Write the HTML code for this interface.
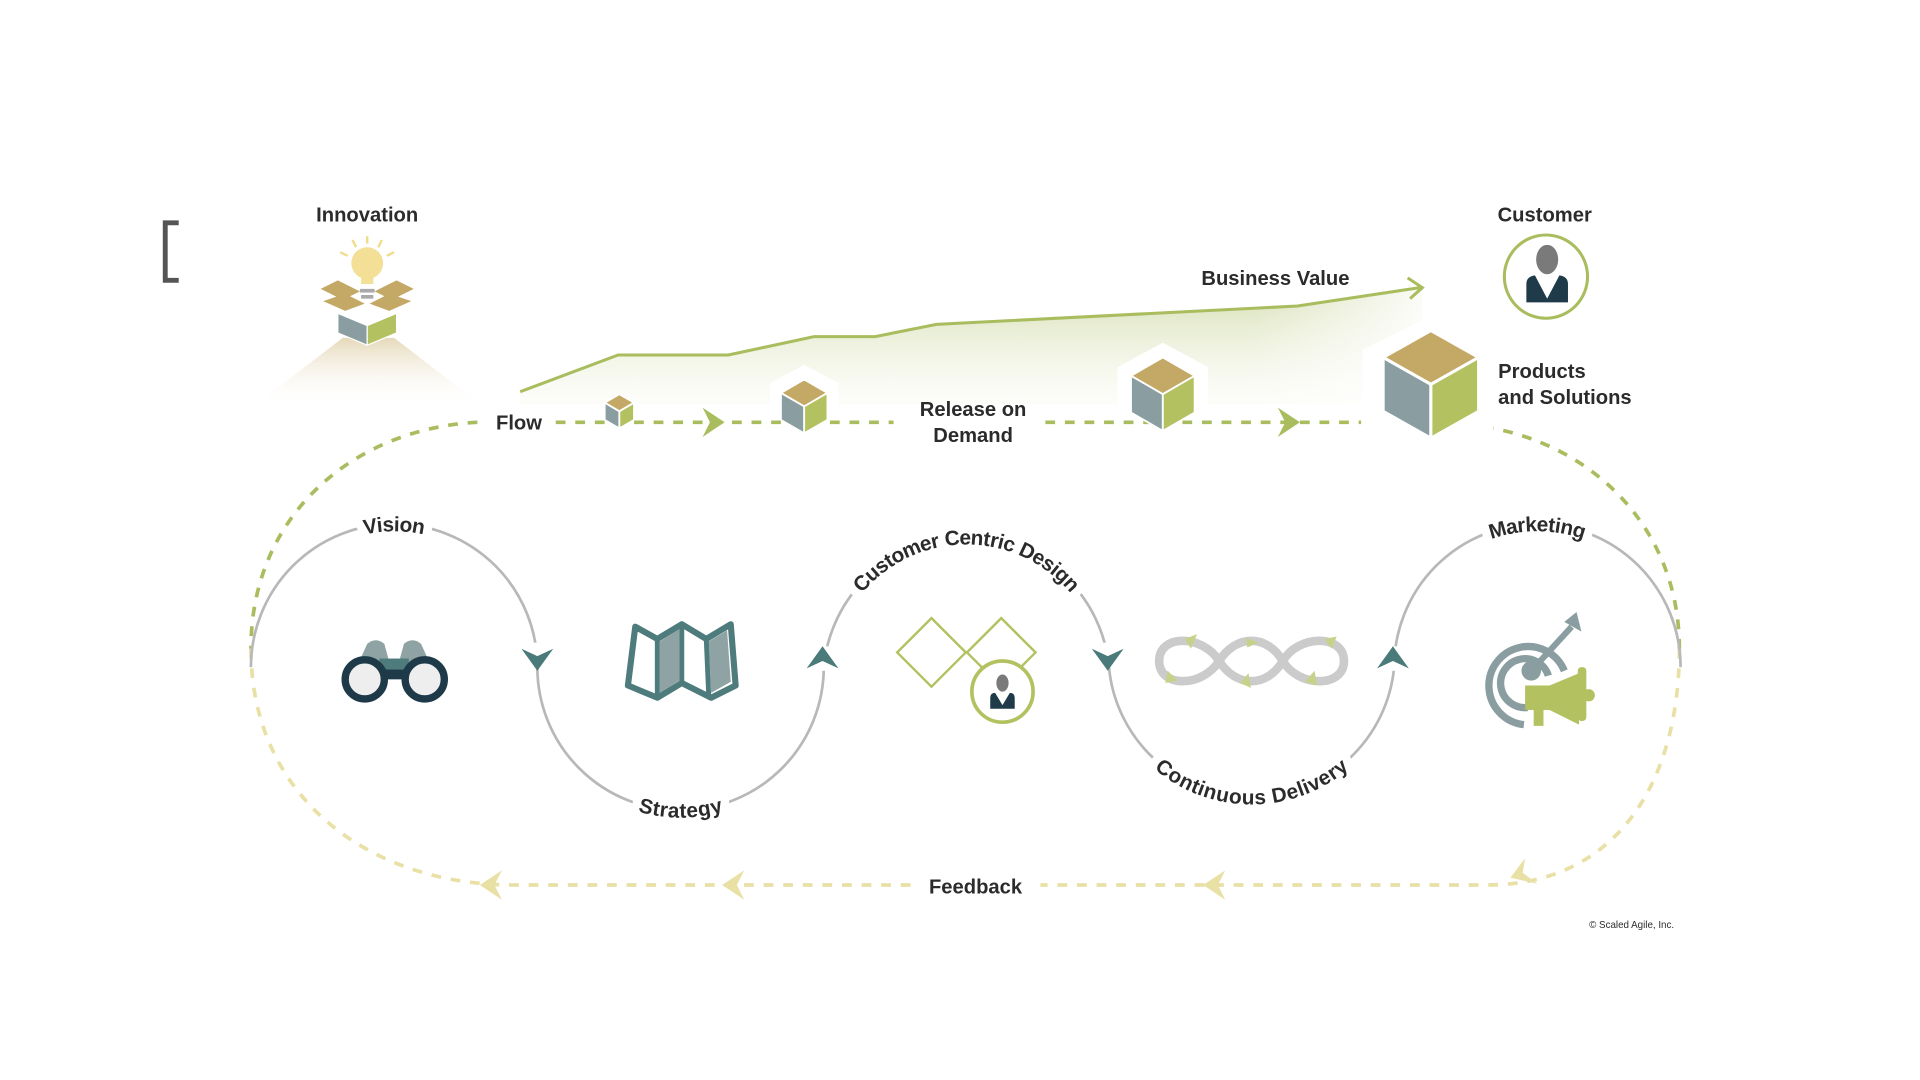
<!DOCTYPE html>
<html><head><meta charset="utf-8"><style>
html,body{margin:0;padding:0;background:#fff;width:1920px;height:1080px;overflow:hidden}
svg{display:block}
text{font-family:"Liberation Sans",sans-serif;font-weight:bold;fill:#2b2b2b}
</style></head><body>
<svg width="1920" height="1080" viewBox="0 0 1568.6 882.3" preserveAspectRatio="none">
<defs>
<linearGradient id="cone" x1="0" y1="0" x2="0" y2="1"><stop offset="0" stop-color="#e6d9ba"/><stop offset="1" stop-color="#fff" stop-opacity="0"/></linearGradient>
<linearGradient id="bv" x1="0" y1="0" x2="0" y2="1"><stop offset="0" stop-color="#c9d49a" stop-opacity=".75"/><stop offset="1" stop-color="#eef2dc" stop-opacity=".15"/></linearGradient>
<linearGradient id="fadeR" x1="0" y1="0" x2="1" y2="0"><stop offset="0" stop-color="#fff" stop-opacity="1"/><stop offset=".8" stop-color="#fff" stop-opacity="1"/><stop offset="1" stop-color="#fff" stop-opacity="0"/></linearGradient>
<mask id="m1"><rect x="400" y="200" width="780" height="160" fill="url(#fadeR)"/></mask>
</defs>

<path d="M146,182 H135 V229 H146" fill="none" stroke="#555" stroke-width="4"/>

<text x="300" y="181" font-size="16.5" text-anchor="middle">Innovation</text>
<polygon points="280,276 322,276 396,333 206,333" fill="url(#cone)"/>
<g stroke="#f1dc8e" stroke-width="2">
<line x1="300" y1="193" x2="300" y2="199"/><line x1="288" y1="196" x2="291" y2="202"/><line x1="312" y1="196" x2="309" y2="202"/>
<line x1="278" y1="206" x2="284" y2="209"/><line x1="322" y1="206" x2="316" y2="209"/>
</g>
<circle cx="300" cy="215" r="13" fill="#f3df96"/>
<rect x="295" y="222" width="10" height="10" fill="#f3df96"/>
<rect x="294" y="236" width="12" height="3" fill="#aaa"/><rect x="295" y="241" width="10" height="3" fill="#aaa"/>
<polygon points="262,236 276,229 294,238 280,245" fill="#c4a865"/>
<polygon points="338,236 324,229 306,238 320,245" fill="#c4a865"/>
<polygon points="264,246 282,240 298,248 282,254" fill="#c4a865"/>
<polygon points="336,246 318,240 302,248 318,254" fill="#c4a865"/>
<polygon points="276,256 300,266 300,282 276,272" fill="#8a9ea2" stroke="#fff" stroke-width="1"/>
<polygon points="324,256 300,266 300,282 324,272" fill="#b3c160" stroke="#fff" stroke-width="1"/>

<polygon points="425,320 505,290 595,290 665,275 715,275 765,265 1060,250 1162,235 1162,330 425,330" fill="url(#bv)" mask="url(#m1)"/>
<polyline points="425,320 505,290 595,290 665,275 715,275 765,265 1060,250 1160,235" fill="none" stroke="#a9bd5e" stroke-width="2.5"/>
<polyline points="1150,227 1162,235 1152,244" fill="none" stroke="#a9bd5e" stroke-width="2.5"/>
<text x="1042" y="233" font-size="16.5" text-anchor="middle">Business Value</text>

<polygon points="657,298 685,313 685,340 629,340 629,313" fill="#fff"/>
<polygon points="950,280 987,300 987,345 913,345 913,300" fill="#fff"/>
<polygon points="1169,258 1222,286 1222,345 1113,345 1113,286" fill="#fff"/>

<line x1="454" y1="345" x2="1112" y2="345" stroke="#a9bd5e" stroke-width="3" stroke-dasharray="8 8"/>
<rect x="730" y="335" width="120" height="22" fill="#fff"/>
<path d="M592,345 L574,333 L580,345 L574,357 Z" fill="#a9bd5e"/>
<path d="M1062,345 L1044,333 L1050,345 L1044,357 Z" fill="#a9bd5e"/>
<text x="424" y="351" font-size="16.5" text-anchor="middle">Flow</text>
<text x="795" y="340" font-size="16.5" text-anchor="middle">Release on</text>
<text x="795" y="361" font-size="16.5" text-anchor="middle">Demand</text>

<g stroke="#fff" stroke-width="1.5" stroke-linejoin="round">
<polygon points="506,322 518,329 506,336 494,329" fill="#c4a865"/><polygon points="494,329 506,336 506,350 494,343" fill="#8a9ea2"/><polygon points="518,329 506,336 506,350 518,343" fill="#b3c160"/>
<polygon points="657,310 676,321 657,332 638,321" fill="#c4a865"/><polygon points="638,321 657,332 657,354 638,343" fill="#8a9ea2"/><polygon points="676,321 657,332 657,354 676,343" fill="#b3c160"/>
<polygon points="950,292 976,307 950,322 924,307" fill="#c4a865"/><polygon points="924,307 950,322 950,352 924,337" fill="#8a9ea2"/><polygon points="976,307 950,322 950,352 976,337" fill="#b3c160"/>
<polygon points="1169,270 1208,292 1169,314 1130,292" fill="#c4a865" stroke-width="2.5"/><polygon points="1130,292 1169,314 1169,358 1130,336" fill="#8a9ea2" stroke-width="2.5"/><polygon points="1208,292 1169,314 1169,358 1208,336" fill="#b3c160" stroke-width="2.5"/>
</g>
<text x="1224" y="309" font-size="16.5">Products</text>
<text x="1224" y="330" font-size="16.5">and Solutions</text>

<text x="1262" y="181" font-size="16.5" text-anchor="middle">Customer</text>
<circle cx="1263" cy="226" r="34" fill="#fff" stroke="#a9bd5e" stroke-width="2.5"/>
<ellipse cx="1264" cy="212" rx="9" ry="12" fill="#7a7a7a"/>
<path d="M1247,247 V232 Q1247,226 1254,225 L1264,244 L1274,225 Q1281,226 1281,232 V247 Z" fill="#1f3a48"/>

<g fill="none" stroke-width="3" stroke-dasharray="8 8">
<path d="M390,345 C290,350 205,420 205,530" stroke="#a9bd5e"/>
<path d="M205,530 C205,650 300,723 420,723 L1215,723 C1320,723 1372,640 1372,530" stroke="#e9e0a5"/>
<path d="M1372,530 C1372,430 1300,365 1220,350" stroke="#a9bd5e"/>
</g>
<rect x="745" y="712" width="105" height="24" fill="#fff"/>
<text x="797" y="730" font-size="16.5" text-anchor="middle">Feedback</text>
<g fill="#e9e0a5">
<path d="M392,723 L410,711 L404,723 L410,735 Z"/>
<path d="M590,723 L608,711 L602,723 L608,735 Z"/>
<path d="M983,723 L1001,711 L995,723 L1001,735 Z"/>
<path d="M1234,717 L1246,701 L1244,713 L1256,722 Z"/>
</g>

<g fill="none" stroke="#b8b8b8" stroke-width="2.2">
<path id="a1" d="M205,545 A117,117 0 0 1 439,545"/>
<path id="a2" d="M439,545 A117,117 0 0 0 673,545"/>
<path id="a3" d="M673,545 A117,117 0 0 1 906,545"/>
<path id="a4" d="M906,545 A117,117 0 0 0 1139,545"/>
<path id="a5" d="M1139,545 A117,117 0 0 1 1373,545"/>
</g>
<g font-size="17" stroke="#fff" stroke-width="14" stroke-linejoin="round">
<text style="fill:#fff"><textPath href="#a1" startOffset="50%" text-anchor="middle"><tspan dy="6">Vision</tspan></textPath></text>
<text style="fill:#fff"><textPath href="#a2" startOffset="50%" text-anchor="middle"><tspan dy="6">Strategy</tspan></textPath></text>
<text style="fill:#fff"><textPath href="#a3" startOffset="50%" text-anchor="middle"><tspan dy="6">Customer Centric Design</tspan></textPath></text>
<text style="fill:#fff"><textPath href="#a4" startOffset="50%" text-anchor="middle"><tspan dy="6">Continuous Delivery</tspan></textPath></text>
<text style="fill:#fff"><textPath href="#a5" startOffset="50%" text-anchor="middle"><tspan dy="6">Marketing</tspan></textPath></text>
</g>
<g font-size="17">
<text><textPath href="#a1" startOffset="50%" text-anchor="middle"><tspan dy="6">Vision</tspan></textPath></text>
<text><textPath href="#a2" startOffset="50%" text-anchor="middle"><tspan dy="6">Strategy</tspan></textPath></text>
<text><textPath href="#a3" startOffset="50%" text-anchor="middle"><tspan dy="6">Customer Centric Design</tspan></textPath></text>
<text><textPath href="#a4" startOffset="50%" text-anchor="middle"><tspan dy="6">Continuous Delivery</tspan></textPath></text>
<text><textPath href="#a5" startOffset="50%" text-anchor="middle"><tspan dy="6">Marketing</tspan></textPath></text>
</g>
<rect x="433" y="525" width="12" height="20" fill="#fff"/><rect x="667" y="528" width="12" height="20" fill="#fff"/>
<rect x="900" y="525" width="12" height="20" fill="#fff"/><rect x="1133" y="528" width="12" height="20" fill="#fff"/>
<g fill="#4a7a7a">
<path d="M439,548 L426,530 L439,536 L452,530 Z"/>
<path d="M672,528 L659,546 L672,540 L685,546 Z"/>
<path d="M905,548 L892,530 L905,536 L918,530 Z"/>
<path d="M1138,528 L1125,546 L1138,540 L1151,546 Z"/>
</g>

<path d="M290,548 L300,526 Q307,520 314,526 L320,548 Z" fill="#8fa3a5"/>
<path d="M324,548 L330,526 Q337,520 344,526 L354,548 Z" fill="#8fa3a5"/>
<rect x="310" y="538" width="24" height="16" fill="#4e7b7b"/>
<circle cx="298" cy="555" r="16" fill="#eee" stroke="#1e3a48" stroke-width="6"/>
<circle cx="347" cy="555" r="16" fill="#eee" stroke="#1e3a48" stroke-width="6"/>
<rect x="312" y="547" width="20" height="8" fill="#1e3a48"/>

<polygon points="519,512 537,522 557,510 577,522 597,510 601,560 581,570 557,558 537,570 513,560" fill="#fff" stroke="#4e7b7b" stroke-width="5" stroke-linejoin="round"/>
<polygon points="539,524 555,514 555,556 539,566" fill="#8fa3a5"/>
<polygon points="579,524 594,515 597,557 581,566" fill="#8fa3a5"/>
<line x1="537" y1="522" x2="537" y2="570" stroke="#4e7b7b" stroke-width="4"/>
<line x1="557" y1="510" x2="557" y2="558" stroke="#4e7b7b" stroke-width="4"/>
<line x1="577" y1="522" x2="579" y2="568" stroke="#4e7b7b" stroke-width="4"/>

<g fill="none" stroke="#b3c160" stroke-width="2">
<polygon points="761,505 789,533 761,561 733,533"/>
<polygon points="818,505 846,533 818,561 790,533"/>
</g>
<circle cx="819" cy="565" r="25" fill="#fff" stroke="#b3c160" stroke-width="3"/>
<ellipse cx="819" cy="558" rx="5" ry="7" fill="#7a7a7a"/>
<path d="M809,579 V570 Q809,566 813,566 L819,576 L825,566 Q829,566 829,570 V579 Z" fill="#1f3a48"/>

<path d="M996,540 C1010,518 1035,518 1048,540 C1061,562 1098,562 1098,540 C1098,518 1061,518 1048,540 C1035,562 1010,562 996,540 C982,518 947,518 947,540 C947,562 982,562 996,540 Z" fill="none" stroke="#cbcbcb" stroke-width="7"/>
<g fill="#c5d38a">
<path d="M968,522 L978,518 L973,530 Z"/><path d="M1018,521 L1028,525 L1019,529 Z"/><path d="M1082,522 L1092,520 L1088,530 Z"/>
<path d="M952,558 L962,556 L954,548 Z"/><path d="M1013,558 L1020,550 L1022,562 Z"/><path d="M1066,557 L1074,548 L1076,560 Z"/>
</g>

<g fill="none" stroke="#8a9ea2" stroke-width="6">
<path d="M1245,592 A32,32 0 1 1 1278,548"/>
<path d="M1248,578 A20,20 0 1 1 1265,552"/>
</g>
<circle cx="1251" cy="548" r="8" fill="#8a9ea2"/>
<line x1="1251" y1="548" x2="1284" y2="512" stroke="#8a9ea2" stroke-width="5"/>
<path d="M1278,508 L1288,500 L1292,516 Z" fill="#8a9ea2"/>
<rect x="1246" y="560" width="22" height="20" fill="#b3c160"/>
<path d="M1266,560 L1290,550 V592 L1266,580 Z" fill="#b3c160"/>
<rect x="1289" y="545" width="7" height="44" rx="3" fill="#b3c160"/>
<circle cx="1298" cy="568" r="5" fill="#b3c160"/>
<rect x="1253" y="578" width="8" height="15" fill="#b3c160"/>

<text x="1333" y="758" font-size="8" text-anchor="middle" style="font-weight:normal">© Scaled Agile, Inc.</text>
</svg>
</body></html>
